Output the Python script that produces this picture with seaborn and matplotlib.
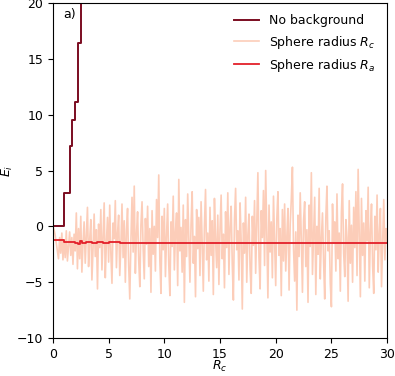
import numpy as np
import pandas as pd
import matplotlib
matplotlib.use('Agg')
import matplotlib.pyplot as plt
import seaborn as sns

plt.rcParams['font.size'] = 9

# No background: step values
nb_x = [0, 0.25, 0.5, 0.75, 1.0, 1.25, 1.5, 1.75, 2.0, 2.25, 2.5, 2.75]
nb_y = [0, 0, 0, 0, 3.0, 3.0, 7.2, 9.5, 11.1, 16.4, 24.0, 30.0]

# Sphere radius R_c (noisy, step 0.1)
rc_y = [
    0.0, -0.3, -0.8, -1.5, -2.2, -2.9, -1.0, -2.4, -0.6, -3.0,
    -1.2, -2.8, -0.4, -3.1, -1.8, -0.5, -2.6, -1.0, -3.4, -0.7,
    -2.2, 1.2, -3.8, -0.2, -2.9, 0.9, -4.1, -1.5, 0.4, -3.3,
    -0.8, 1.7, -3.6, -1.2, 0.6, -4.8, -2.0, 1.1, -2.7, -0.3,
    -5.6, 0.2, -1.9, 1.5, -3.9, -0.9, 2.1, -4.6, -1.4, 0.8,
    -3.2, 1.9, -2.4, -5.1, 0.3, -1.1, 2.3, -3.7, -0.6, 1.0,
    -4.4, -1.7, 2.0, -2.8, 0.5, -5.0, -0.4, 1.6, -3.5, -6.5,
    -1.3, 2.6, -2.3, 3.6, -4.2, -0.7, 1.3, -3.0, -5.4, 0.1,
    2.2, -2.0, -4.7, 0.7, -1.6, 1.8, -3.6, -0.2, -5.9, 1.4,
    -2.5, 0.0, -4.0, 2.4, -1.0, 4.6, -3.1, -6.0, 0.9, -2.1,
    1.6, -4.5, -0.8, 2.0, -3.4, -6.2, 0.4, -1.8, 2.7, -3.9,
    -0.5, 1.2, -5.3, 4.2, -2.2, -0.1, -4.1, 1.9, -6.8, 0.6,
    -2.7, 2.9, -1.2, -5.0, 0.2, 3.1, -3.3, -0.9, -6.3, 1.5,
    -2.0, 0.8, -4.4, 2.2, -1.5, -5.8, 0.0, 3.3, -3.0, -0.6,
    -4.9, 1.7, -2.6, 0.5, -6.1, 2.5, -1.1, -3.7, 1.0, -5.2,
    -0.3, 2.8, -2.9, -0.7, -5.5, 1.3, -1.9, 3.0, -4.3, -0.1,
    1.8, -3.4, -6.6, 0.6, 3.4, -2.1, -0.4, -4.8, 2.1, -1.3,
    -7.4, 0.3, -2.4, 2.6, -5.0, -0.8, 1.1, -3.8, -6.0, 0.9,
    -1.7, 2.3, -4.2, 0.1, 4.8, -2.8, -5.6, 1.4, -1.0, 3.2,
    -3.5, 5.0, -0.6, -6.4, 1.9, -2.3, 0.4, -4.6, 2.7, -1.4,
    -5.3, 0.7, 3.1, -2.6, -0.2, -6.2, 1.5, -3.1, 2.0, -4.0,
    -0.9, 1.6, -5.7, 0.2, 2.4, 5.3, -2.0, -4.9, -0.5, -7.5,
    1.0, -2.7, 3.0, -1.2, -5.9, 0.5, 2.2, -3.6, -0.3, -6.8,
    1.9, -1.8, 4.8, -4.3, -0.7, 2.6, -6.1, 0.0, -2.5, 3.4,
    -4.7, -1.1, 1.2, -3.2, -6.5, 0.8, 3.6, -2.2, -0.4, -5.1,
    -7.2, 2.0, -1.5, 0.4, -4.0, 2.9, -2.9, -0.6, -5.8, 1.3,
    3.8, -2.4, -4.5, 0.6, -1.0, -6.7, 2.3, -3.3, 0.1, -5.0,
    1.7, -1.9, 3.1, -4.4, 5.1, -0.8, -6.3, 2.5, -2.6, 0.3,
    -4.9, 1.4, -1.3, 3.5, -5.5, -0.5, 2.0, -3.5, -6.0, 0.9,
    -2.1, 2.8, -4.1, -0.7, 1.6, -5.4, -1.6, 2.4, -3.0, -0.2,
    -1.5,
]
rc_x = [round(i * 0.1, 1) for i in range(len(rc_y))]

# Sphere radius R_a
ra_x = [0, 0.5, 1.0, 1.5, 2.0, 2.25, 2.4, 2.6, 3.0, 3.5, 4.0, 4.5, 5.0, 6.0, 8.0,
        10.0, 15.0, 20.0, 25.0, 30.0]
ra_y = [-1.25, -1.25, -1.42, -1.42, -1.45, -1.62, -1.3, -1.45, -1.4, -1.5, -1.42,
        -1.47, -1.43, -1.45, -1.45, -1.45, -1.45, -1.45, -1.45, -1.45]

nb = pd.DataFrame({'x': nb_x, 'y': nb_y})
rc = pd.DataFrame({'x': rc_x, 'y': rc_y})
ra = pd.DataFrame({'x': ra_x, 'y': ra_y})

fig = plt.figure(figsize=(3.95, 3.76), dpi=100)
ax = fig.add_axes([0.134, 0.101, 0.846, 0.891])

sns.lineplot(data=nb, x='x', y='y', ax=ax, color='#7b0c20', lw=1.4,
             drawstyle='steps-post', label='No background')
sns.lineplot(data=rc, x='x', y='y', ax=ax, color='#fcc5ad', lw=1.2, alpha=0.85,
             label='Sphere radius $R_c$')
sns.lineplot(data=ra, x='x', y='y', ax=ax, color='#e3202a', lw=1.3,
             drawstyle='steps-post', label='Sphere radius $R_a$')

ax.set_xlim(0, 30)
ax.set_ylim(-10, 20)
ax.set_xticks([0, 5, 10, 15, 20, 25, 30])
ax.set_yticks([-10, -5, 0, 5, 10, 15, 20])
ax.set_xlabel('$R_c$', labelpad=-1)
ax.set_ylabel('$E_i$', labelpad=1)
ax.text(0.03, 0.965, 'a)', transform=ax.transAxes, va='center', ha='left')
ax.legend(loc='upper right', frameon=False)

fig.savefig('out.png', dpi=100)
